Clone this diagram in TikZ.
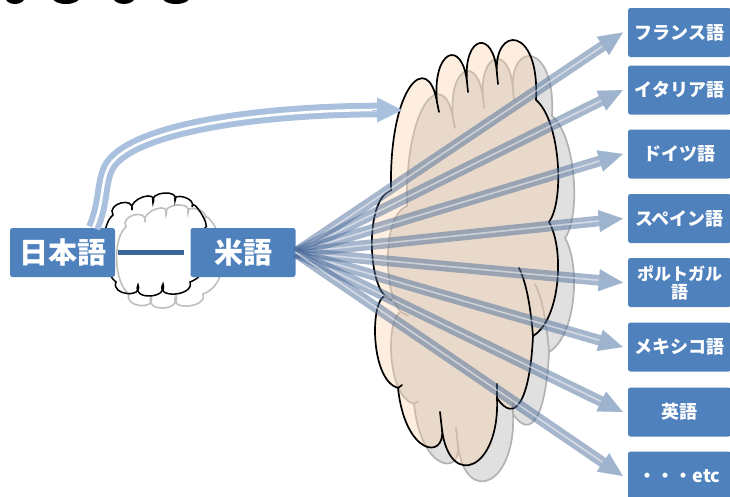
\documentclass[tikz,border=0pt]{standalone}
\usepackage{fontspec}
\newfontfamily\jp{Noto Sans CJK JP}
\usetikzlibrary{arrows.meta,calc}
\definecolor{boxblue}{HTML}{4F81BD}
\definecolor{linkblue}{HTML}{3C6697}
\definecolor{lightarrow}{HTML}{A9C1DF}
\definecolor{fanline}{HTML}{4E6E9C}
\definecolor{fanhead}{HTML}{9DB3CE}
\definecolor{peach}{HTML}{F9CEA3}
\definecolor{shadowgray}{HTML}{E0E0E0}
\begin{document}
\begin{tikzpicture}[x=1pt,y=-1pt,
  lang/.style={rectangle, rounded corners=2.5pt, fill=boxblue, text=white,
    font=\jp\bfseries\fontsize{18}{19}\selectfont, minimum width=103pt,
    minimum height=49pt, inner sep=0pt, align=center},
  bigbox/.style={lang, font=\jp\bfseries\fontsize{29}{32}\selectfont, minimum width=105pt},
  link/.style={linkblue, line width=5pt},
  curveshaft/.style={lightarrow, line width=6pt, double=white, double distance=2.6pt},
  lighthead/.style={lightarrow, line width=0.1pt, -{Triangle[length=25pt,width=25pt]}},
  fanshaft/.style={fanline, draw opacity=0.5, line width=4.5pt, double=white, double distance=1.6pt},
  fanheadstyle/.style={fanhead, line width=0.1pt, -{Triangle[length=24pt,width=22pt]}},
  blob/.style={fill=black},
  bigfront/.style={fill=peach, fill opacity=0.35, draw=black, line width=1.7pt},
  bigback/.style={fill=shadowgray, draw=gray!60, line width=1.7pt},
  tailline/.style={line width=1.7pt, line cap=round},
  smallfront/.style={draw=black, line width=1.5pt},
  smallback/.style={draw=gray!50, line width=1.6pt}
]
\useasboundingbox (0,0) rectangle (730,496);
% cut-off fragments at the top
\fill[blob] (15,-3) ellipse [x radius=10pt, y radius=7pt];
\fill[blob] (66,-3) ellipse [x radius=14pt, y radius=7pt];
\fill[blob] (124,-3) ellipse [x radius=11pt, y radius=7pt];
\fill[blob] (176,-3) ellipse [x radius=14pt, y radius=7pt];

% ---------- big cloud: shadow then front ----------
\foreach \sx/\sy/\st/\tc in {16/16/bigback/gray!60, 0/0/bigfront/black}{
\begin{scope}[shift={(\sx,\sy)}]
\path[\st] (391,190) .. controls (389,85) and (428,50) .. (437,102)
  .. controls (432,50) and (462,38) .. (467,82)
  .. controls (463,35) and (494,28) .. (497,74)
  .. controls (493,25) and (540,25) .. (536,100)
  .. controls (560,120) and (565,200) .. (549,222)
  .. controls (565,250) and (560,320) .. (533,336)
  .. controls (530,400) and (515,425) .. (497,398)
  .. controls (500,470) and (450,490) .. (442,430)
  .. controls (445,460) and (405,455) .. (398,388)
  .. controls (370,380) and (370,300) .. (385,296)
  .. controls (368,280) and (365,200) .. (391,190) -- cycle;
\draw[tailline, \tc] (437,102) -- (439,112);
\draw[tailline, \tc] (467,82) -- (468,92);
\draw[tailline, \tc] (497,74) -- (498,84);
\draw[tailline, \tc] (533,336) .. controls (530,300) and (525,280) .. (519,268);
\draw[tailline, \tc] (497,398) -- (497,384);
\draw[tailline, \tc] (442,430) -- (440,412);
\draw[tailline, \tc] (398,388) -- (402,385);
\draw[tailline, \tc] (385,296) -- (392,300);
\end{scope}
}

% ---------- small cloud: shadow then front ----------
\foreach \sx/\sy/\st in {13/12/smallback, 0/0/smallfront}{
\begin{scope}[shift={(\sx,\sy)}]
\path[\st] (113,215) .. controls (106.2,203.5) and (134.8,196) .. (132,210)
  .. controls (127.4,199) and (158.9,188.5) .. (153,203)
  .. controls (147.5,191.5) and (180.5,188.5) .. (175,201)
  .. controls (171.4,191.8) and (196.9,197.8) .. (192,207)
  .. controls (192,195.8) and (211.6,227.3) .. (205,228)
  .. controls (215,245) and (210,275) .. (190,282)
  .. controls (194.8,296.2) and (154.3,299.2) .. (163,284)
  .. controls (168.6,299) and (131.1,300.6) .. (138,285)
  .. controls (143.5,298.4) and (110.5,295.4) .. (116,282)
  .. controls (100,270) and (100,225) .. (113,215) -- cycle;
\end{scope}
}

% boxes
\node[bigbox] (nj) at (62.5,252.5) {日本語};
\node[bigbox] (mi) at (243,252.5) {米語};
\node[lang] (fr) at (679.5,32.5) {フランス語};
\node[lang] (it) at (679.5,90) {イタリア語};
\node[lang] (de) at (679.5,154) {ドイツ語};
\node[lang] (es) at (679.5,218.5) {スペイン語};
\node[lang, font=\jp\bfseries\fontsize{17}{18}\selectfont] (pt) at (679.5,282.5) {ポルトガル\\語};
\node[lang] (mx) at (679.5,347) {メキシコ語};
\node[lang] (en) at (679.5,412) {英語};
\node[lang] (etc) at (679.5,476) {・・・etc};

% link between 日本語 and 米語
\draw[link, shorten <=3pt, shorten >=6pt] (nj) -- (mi);

% curved double arrow into the cloud
\coordinate (ctip) at (402,110);
\draw[curveshaft] ($(nj.north east)+(-22,0)$) .. controls (105,200) and (100,182) .. (110,165)
  .. controls (135,128) and (260,110) .. (382,110);
\draw[lighthead] (372,110) -- (ctip);

% fan of arrows
\foreach \t in {fr,it,de,es,pt,mx,en,etc}{
  \coordinate (tip\t) at ($(\t.west)+(-5,0)$);
  \draw[fanshaft] (mi.east) -- ($(tip\t)!21pt!(mi.east)$);
  \draw[fanheadstyle] ($(tip\t)!26pt!(mi.east)$) -- (tip\t);
}
\end{tikzpicture}
\end{document}
